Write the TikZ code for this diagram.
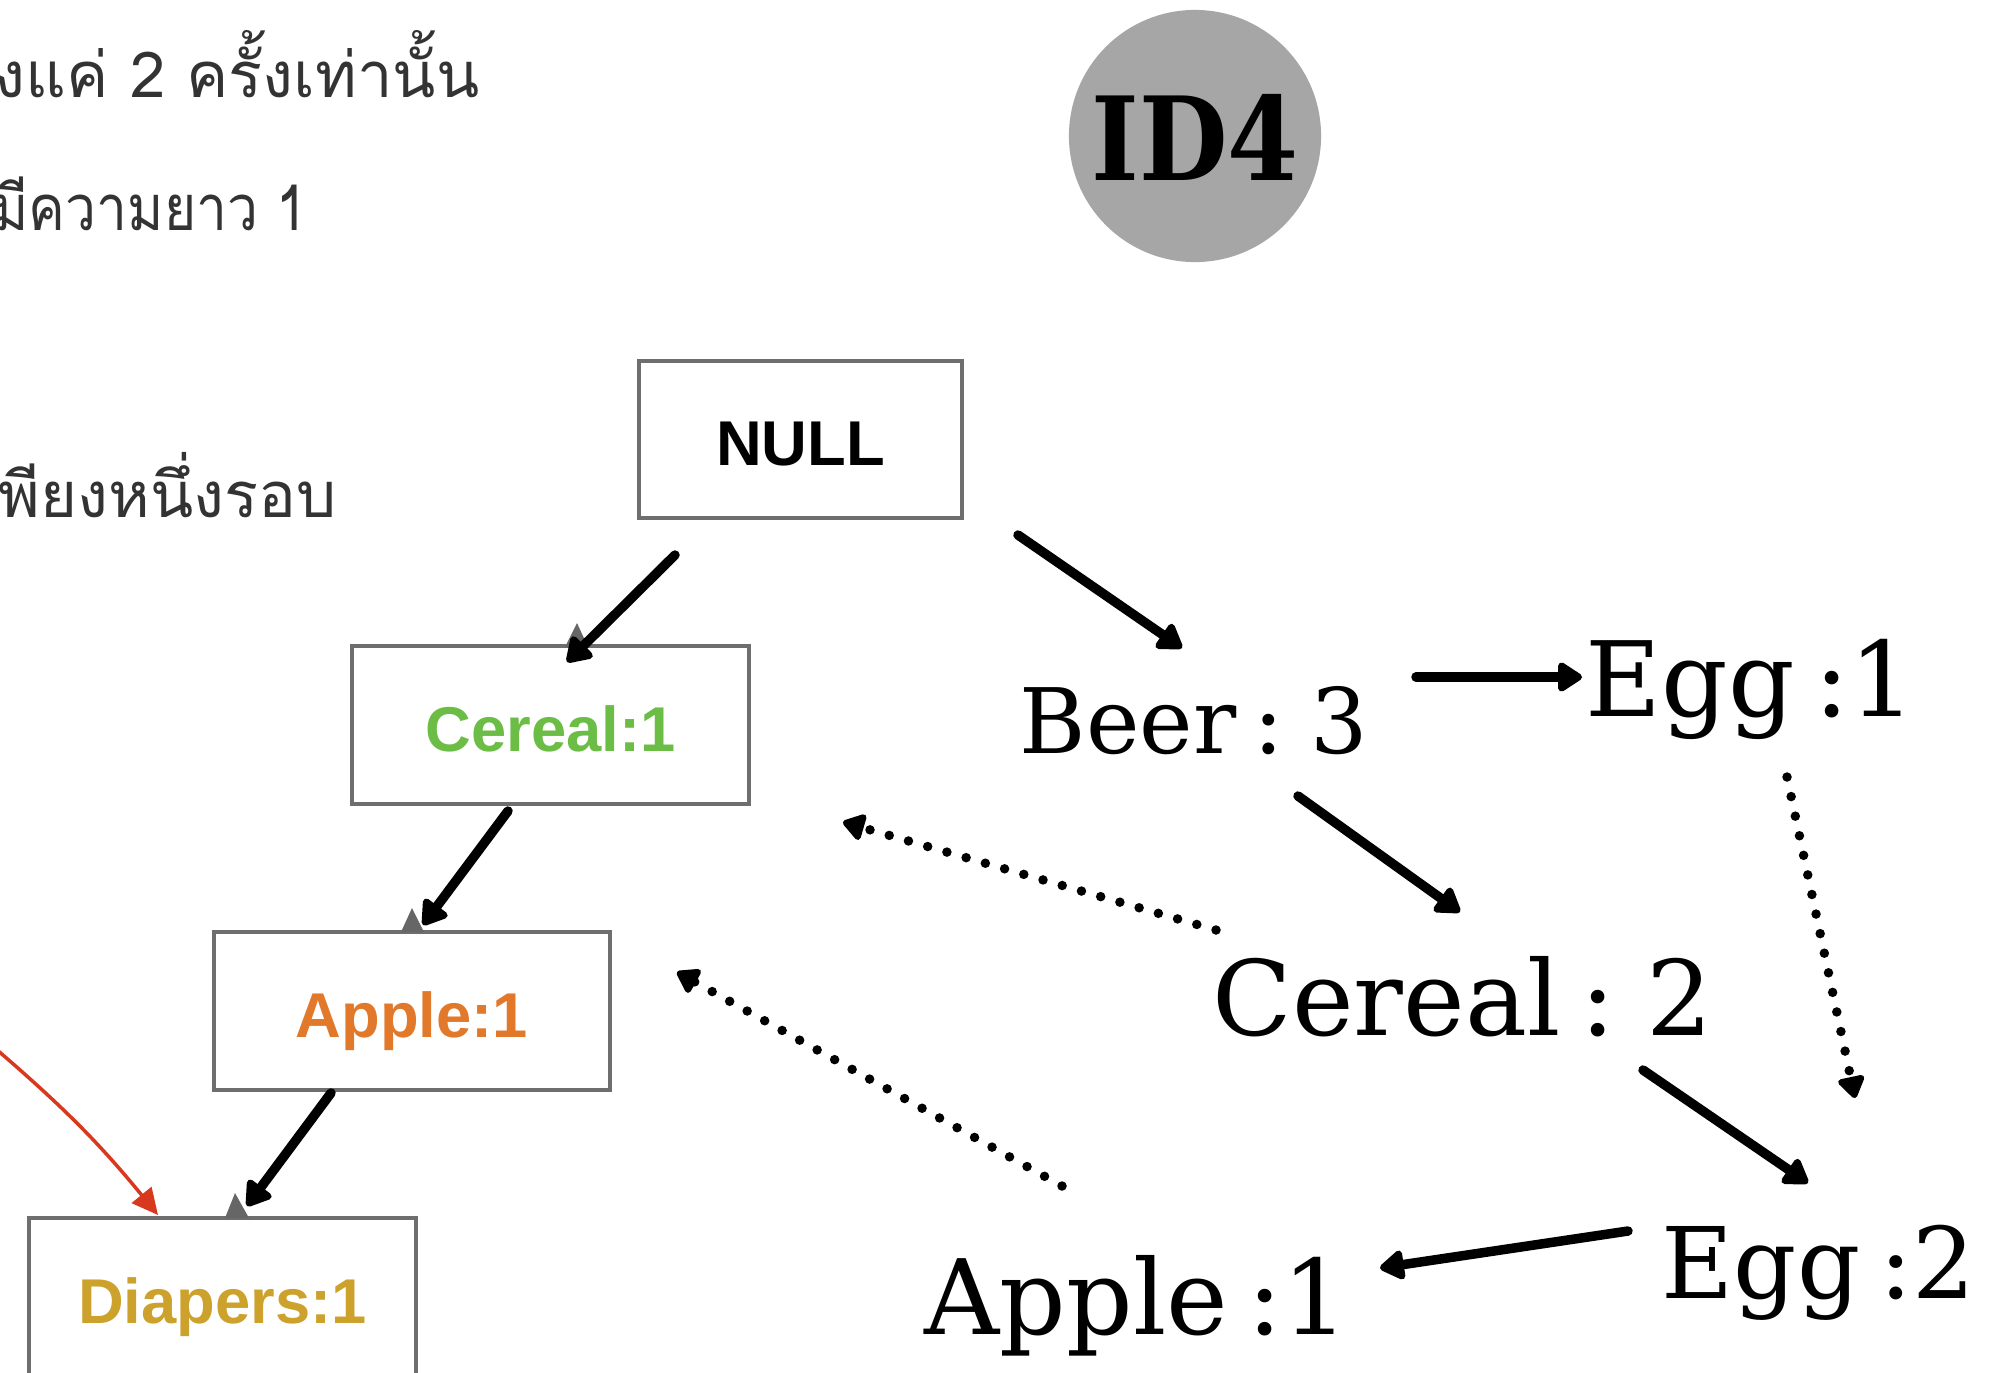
\documentclass[tikz,border=0pt]{standalone}
\usepackage{fontspec}
\setmainfont{DejaVu Serif}[WordSpace=0.6]
\newfontfamily\idfont{DejaVu Serif}[FakeStretch=0.88]
\newfontfamily\thaifont[Script=Thai]{Loma}
\newfontfamily\thainarrow[Script=Thai,FakeStretch=0.87]{Loma}
\newfontfamily\boxfont{Liberation Sans}
\usetikzlibrary{arrows.meta}

\definecolor{idgray}{HTML}{A6A6A6}
\definecolor{boxline}{HTML}{6E6E6E}
\definecolor{cerealgreen}{HTML}{6CBD45}
\definecolor{appleorange}{HTML}{E1782A}
\definecolor{diapergold}{HTML}{CCA12C}
\definecolor{redarrow}{HTML}{D8381E}
\definecolor{thaitext}{HTML}{333333}
\definecolor{tipgray}{HTML}{666666}

\tikzset{
  fpbox/.style={draw=boxline, line width=0.04cm, minimum width=#1,
    minimum height=1.57cm, inner sep=0, text height=0.52cm, text depth=0pt,
    font=\boxfont\bfseries\fontsize{18}{18}\selectfont},
  countlabel/.style={inner sep=0, anchor=base west,
    font=\fontsize{#1}{#1}\selectfont},
  thailine/.style={inner sep=0, anchor=base west, text=thaitext,
    font=\thaifont\fontsize{18}{18}\selectfont},
  solidarr/.style={line width=0.095cm, line cap=round,
    -{Triangle[round,length=0.27cm,width=0.33cm]}},
  dotarr/.style={line width=0.095cm, line cap=round,
    dash pattern=on 0pt off 0.2cm,
    -{Triangle[round,length=0.24cm,width=0.3cm]}},
  redarr/.style={redarrow, line width=0.035cm,
    -{Triangle[length=0.26cm,width=0.25cm]}},
}

\begin{document}
\begin{tikzpicture}[x=0.01cm,y=-0.01cm]
\useasboundingbox (0,0) rectangle (1997,1372);
\clip (0,0) rectangle (1997,1372);
\fill[white] (0,0) rectangle (1997,1372);

% notes on the left
\node[thailine] (t1) at (-6,97) {งแค่ 2 ครั้งเท่านั้น};
\node[thailine, font=\thainarrow\fontsize{18}{18}\selectfont] (t2) at (-8,230) {มีความยาว 1};
\node[thailine] (t3) at (-2,517) {พียงหนึ่งรอบ};

% item badge
\node[circle, fill=idgray, minimum size=2.52cm, inner sep=0] (id) at (1195,136) {};
\node[font=\idfont\bfseries\fontsize{33}{33}\selectfont] (idtext) at (1195,137) {ID4};

% FP-tree branch (boxes)
\node[fpbox=3.23cm] (null) at (800.5,439.5) {NULL};
\node[fpbox=3.97cm, text=cerealgreen] (c1) at (550.5,725) {Cereal:1};
\node[fpbox=3.96cm, text=appleorange] (a1) at (412,1011) {Apple:1};
\node[fpbox=3.87cm, minimum height=1.58cm, text=diapergold] (d1) at (222.5,1297) {Diapers:1};

% header-table style counts
\node[countlabel=25.7] (beer) at (1019,753) {Beer : 3};
\node[countlabel=29.6] (egg1) at (1585,716) {Egg :1};
\node[countlabel=29.6] (cer2) at (1212,1035) {Cereal : 2};
\node[countlabel=28.1] (egg2) at (1661,1298) {Egg :2};
\node[countlabel=29.6] (app2) at (924,1334) {Apple :1};

% small arrow tips of the underlying tree
\fill[tipgray] (565,647) -- (588,647) -- (577,623) -- cycle;
\fill[tipgray] (401,932) -- (424,932) -- (412,908) -- cycle;
\fill[tipgray] (225,1218) -- (249,1218) -- (235,1193) -- cycle;

% red link into Diapers
\coordinate (redstart) at (-4,1049);
\draw[redarr] (redstart) to[bend left=5] ([shift={(-64.5,-82)}]d1.center);

% tree edges
\draw[solidarr] ([shift={(-125.5,115.5)}]null.center) -- ([shift={(16.5,-63)}]c1.center);
\draw[solidarr] ([shift={(-42.5,86)}]c1.center) -- ([shift={(11,-86)}]a1.center);
\draw[solidarr] ([shift={(-81,82)}]a1.center) -- ([shift={(24.5,-91)}]d1.center);

% conditional tree edges
\draw[solidarr] ([shift={(217.5,95.5)}]null.center) -- ([shift={(163,-105)}]beer.base west);
\draw[solidarr] ([shift={(397,-76)}]beer.base west) -- ([shift={(-3,-39)}]egg1.base west);
\draw[solidarr] ([shift={(279,43)}]beer.base west) -- ([shift={(248,-123)}]cer2.base west);
\draw[solidarr] ([shift={(431,35)}]cer2.base west) -- ([shift={(147,-115)}]egg2.base west);
\draw[solidarr] ([shift={(-33,-67)}]egg2.base west) -- ([shift={(456,-66)}]app2.base west);

% node links
\draw[dotarr] ([shift={(202,61)}]egg1.base west) -- ([shift={(194,-200)}]egg2.base west);
\draw[dotarr] ([shift={(4,-105)}]cer2.base west) -- ([shift={(292.5,97)}]c1.center);
\draw[dotarr] ([shift={(138,-148)}]app2.base west) -- ([shift={(265,-39)}]a1.center);
\end{tikzpicture}
\end{document}
